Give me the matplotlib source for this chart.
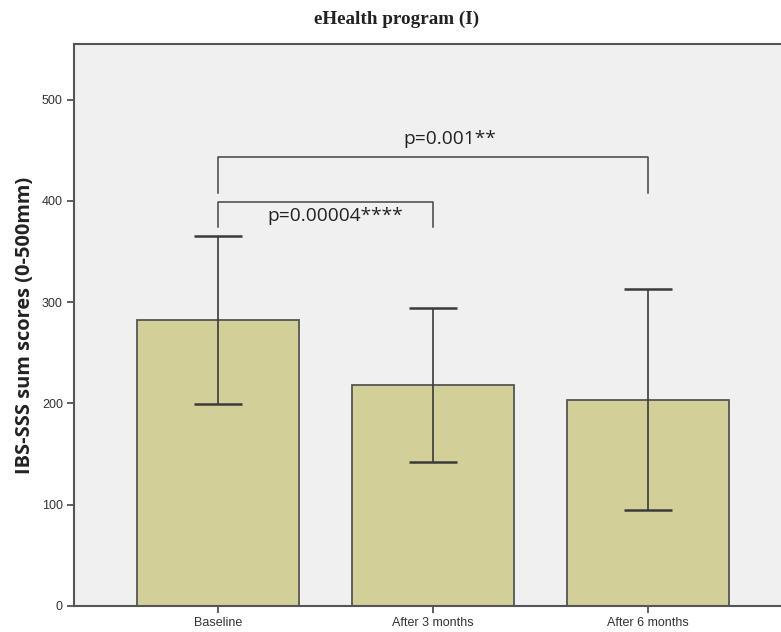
import matplotlib.pyplot as plt
import numpy as np

# Data
categories = ['Baseline', 'After 3 months', 'After 6 months']
means = [282.5, 218.5, 203.5]
err_upper = [365.5, 294.5, 313.0]
err_lower = [199.5, 142.5, 95.0]

# Comparison brackets: (start index, end index, top y, leg end y, label, label x, label y)
brackets = [
    (0, 2, 443.5, 408.0, 'p=0.001**', 1.08, 461.0),
    (0, 1, 399.0, 374.0, 'p=0.00004****', 0.545, 385.0),
]

fig = plt.figure(figsize=(7.81, 6.32), dpi=100)
ax = fig.add_axes([74 / 781, 26 / 632, 718 / 781, 562 / 632])
ax.set_facecolor('#f0f0f0')

x = np.arange(len(categories))
yerr = [np.subtract(means, err_lower), np.subtract(err_upper, means)]
ax.bar(x, means, width=0.75, color='#d3cf98', edgecolor='#555555', linewidth=1.3, zorder=2)
ax.errorbar(x, means, yerr=yerr, fmt='none', ecolor='#3a3a3a', elinewidth=1.2,
            capsize=17, capthick=1.8, zorder=3)

for i0, i1, top, leg, label, lx, ly in brackets:
    ax.plot([x[i0], x[i0], x[i1], x[i1]], [leg, top, top, leg], color='#444444', lw=1.1, zorder=3)
    ax.text(lx, ly, label, ha='center', va='center',
            fontsize=13.8, family=['Open Sans', 'DejaVu Sans'], color='#222222')

ax.set_xlim(-0.67, 2.67)
ax.set_ylim(0, 555)
ax.set_yticks([0, 100, 200, 300, 400, 500])
ax.set_xticks(x)
ax.set_xticklabels(categories)
for lab in ax.get_xticklabels() + ax.get_yticklabels():
    lab.set_family('Liberation Sans')
    lab.set_fontsize(9)
    lab.set_color('#333333')
ax.tick_params(axis='both', length=5, width=1.2, color='#444444', pad=3)

for s in ['left', 'bottom', 'top']:
    ax.spines[s].set_color('#555555')
    ax.spines[s].set_linewidth(1.5)
ax.spines['right'].set_visible(False)

ax.set_ylabel('IBS-SSS sum scores (0-500mm)', fontsize=14.4, fontweight='bold',
              family=['Open Sans', 'DejaVu Sans'], color='#222222', labelpad=5)
fig.text(397 / 781, 1 - 19 / 632, 'eHealth program (I)', ha='center', va='center',
         fontsize=13.8, fontweight='bold', family='Liberation Serif', color='#222222')

fig.savefig('out.png', dpi=100)
